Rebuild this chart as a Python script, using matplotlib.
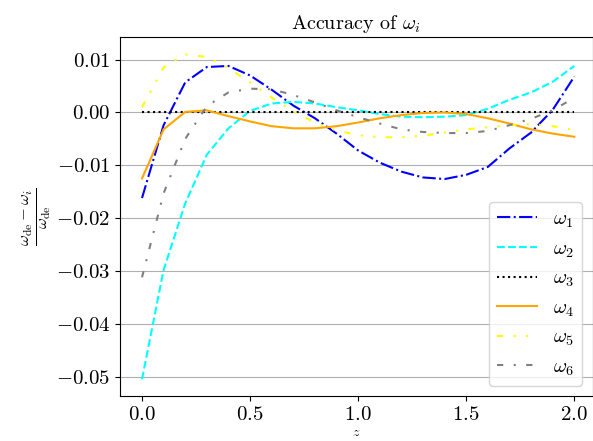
import numpy as np
import matplotlib
matplotlib.use("Agg")
import matplotlib.pyplot as plt

plt.rcParams["font.family"] = "serif"
plt.rcParams["font.serif"] = ["cmr10", "DejaVu Serif"]
plt.rcParams["mathtext.fontset"] = "cm"
plt.rcParams["axes.formatter.use_mathtext"] = True
plt.rcParams["axes.unicode_minus"] = True

# redshift grid
z = [0.0, 0.1, 0.2, 0.3, 0.4, 0.5, 0.6, 0.7, 0.8, 0.9, 1.0,
     1.1, 1.2, 1.3, 1.4, 1.5, 1.6, 1.7, 1.8, 1.9, 2.0]

# relative error (w_de - w_i) / w_de for each approximation
w1 = [-0.0162, -0.0024, 0.0057, 0.0086, 0.0088, 0.0070, 0.0043, 0.0013, -0.0011,
      -0.0040, -0.0072, -0.0095, -0.0112, -0.0123, -0.0126, -0.0118, -0.0103,
      -0.0068, -0.0038, 0.0005, 0.0068]
w2 = [-0.0505, -0.0298, -0.0172, -0.0080, -0.0030, 0.0003, 0.0017, 0.0020, 0.0017,
      0.0010, 0.0004, -0.0003, -0.0008, -0.0009, -0.0008, -0.0005, 0.0007, 0.0024,
      0.0038, 0.0058, 0.0088]
w3 = [0.0] * 21
w4 = [-0.0125, -0.0032, 0.0001, 0.0004, -0.0007, -0.0017, -0.0026, -0.0030, -0.0030,
      -0.0026, -0.0019, -0.0011, -0.0005, -0.0001, 0.0000, -0.0003, -0.0011, -0.0021,
      -0.0032, -0.0040, -0.0046]
w5 = [0.0010, 0.0085, 0.0110, 0.0105, 0.0084, 0.0057, 0.0028, 0.0002, -0.0019,
      -0.0034, -0.0043, -0.0047, -0.0047, -0.0044, -0.0038, -0.0032, -0.0028,
      -0.0024, -0.0022, -0.0026, -0.0033]
w6 = [-0.0312, -0.0153, -0.0050, 0.0012, 0.0038, 0.0045, 0.0044, 0.0033, 0.0019,
      0.0004, -0.0009, -0.0021, -0.0032, -0.0037, -0.0039, -0.0039, -0.0035,
      -0.0024, -0.0012, 0.0004, 0.0028]

labels = [r"$\omega_1$", r"$\omega_2$", r"$\omega_3$", r"$\omega_4$", r"$\omega_5$", r"$\omega_6$"]
yticks = [0.01, 0.0, -0.01, -0.02, -0.03, -0.04, -0.05]
xticks = [0.0, 0.5, 1.0, 1.5, 2.0]

series = [w1, w2, w3, w4, w5, w6]
colors = ["blue", "cyan", "black", "orange", "yellow", "gray"]
styles = ["-.", "--", ":", "-", (0, (3, 5, 1, 5, 1, 5)), (0, (3, 5, 1, 5))]

fig = plt.figure(figsize=(5.93, 4.41), dpi=100)
ax = fig.add_axes([120 / 593, 45 / 441, 472.5 / 593, 359 / 441])

for vals, c, ls, lab in zip(series, colors, styles, labels):
    ax.plot(z, vals, color=c, linestyle=ls, linewidth=1.5, label=lab)

ax.set_xlim(-0.1018, 2.084)
ax.set_ylim(-0.05366, 0.01428)
ax.set_xticks(xticks)
ax.set_yticks(yticks)
ax.tick_params(labelsize=15)
ax.yaxis.grid(True, color="#b0b0b0", linewidth=0.8)
ax.set_axisbelow(True)

ax.set_title(r"Accuracy of $\omega_i$", fontsize=14.5)
ax.set_xlabel(r"$z$", fontsize=10, labelpad=2)
ax.set_ylabel(r"$\frac{\omega_{\rm de}-\omega_i}{\omega_{\rm de}}$", fontsize=17, labelpad=2)

ax.legend(loc="lower right", fontsize=14.5)

fig.savefig("out.png", dpi=100)
